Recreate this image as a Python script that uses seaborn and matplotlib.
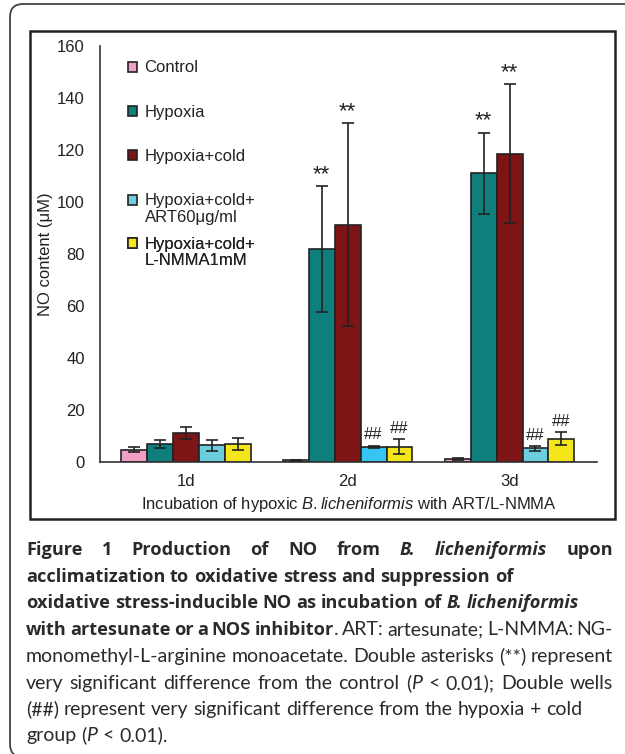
import matplotlib
matplotlib.use('Agg')
import matplotlib.pyplot as plt
from matplotlib.patches import Rectangle, FancyBboxPatch
import pandas as pd
import seaborn as sns

# data (NO content, uM)
days = ['1d', '2d', '3d']
groups = ['Control', 'Hypoxia', 'Hypoxia+cold',
          'Hypoxia+cold+\nART60\u03bcg/ml', 'Hypoxia+cold+\nL-NMMA1mM']
control = [4.8, 0.6, 1.1]
hypoxia = [6.9, 81.8, 111.0]
hypoxia_cold = [11.2, 91.3, 118.6]
art = [6.4, 5.9, 5.2]
lnmma = [6.9, 5.9, 9.0]
control_sd = [1.1, 0.3, 0.4]
hypoxia_sd = [1.4, 24.2, 15.6]
hypoxia_cold_sd = [2.2, 39.0, 26.7]
art_sd = [2.0, 0.4, 0.8]
lnmma_sd = [2.4, 3.0, 2.4]
# significance marks: (group index, day index, text)
marks = [(1, 1, '**'), (2, 1, '**'), (1, 2, '**'), (2, 2, '**'),
         (3, 1, '##'), (4, 1, '##'), (3, 2, '##'), (4, 2, '##')]

colors = ['#f29fc5', '#0f7f7e', '#7d1416', '#6ccede', '#f3e71b']

sns.set_style('white')
plt.rcParams['font.family'] = ['Liberation Sans', 'DejaVu Sans']
plt.rcParams['mathtext.fontset'] = 'custom'
plt.rcParams['mathtext.rm'] = 'Liberation Sans'
plt.rcParams['mathtext.it'] = 'Liberation Sans:italic'

means = [control, hypoxia, hypoxia_cold, art, lnmma]
sds = [control_sd, hypoxia_sd, hypoxia_cold_sd, art_sd, lnmma_sd]
rows = []
for g, m, s in zip(groups, means, sds):
    for d, v, e in zip(days, m, s):
        rows.append({'day': d, 'group': g, 'value': v, 'sd': e})
df = pd.DataFrame(rows)

fig = plt.figure(figsize=(6.25, 7.54), dpi=100)
ax = fig.add_axes([100 / 625, 1 - 462 / 754, 497 / 625, 416 / 754])

sns.barplot(data=df, x='day', y='value', hue='group', hue_order=groups,
            palette=colors, saturation=1, errorbar=None, width=0.8,
            edgecolor='#222222', linewidth=1.2, ax=ax, legend=False)
bars = list(ax.containers)

# the 2d ART bar is a brighter cyan in the original
bars[3][1].set_facecolor('#36c5f3')

# error bars and significance marks
for gi, cont in enumerate(bars):
    xs = [b.get_x() + b.get_width() / 2 for b in cont]
    ax.errorbar(xs, means[gi], yerr=sds[gi], fmt='none', ecolor='#222222',
                elinewidth=1.2, capsize=4.5, capthick=1.2, zorder=5)
for gi, di, txt in marks:
    b = bars[gi][di]
    x = b.get_x() + b.get_width() / 2
    top = means[gi][di] + sds[gi][di]
    if txt == '**':
        ax.annotate(txt, (x, top), xytext=(0, 4.5), textcoords='offset points',
                    ha='center', va='baseline', fontsize=16, color='#222222')
    else:
        ax.annotate(txt, (x, top), xytext=(0, 4.5), textcoords='offset points',
                    ha='center', va='baseline', fontsize=12, color='#222222')

ax.set_ylim(0, 160)
ax.set_xlim(-0.53, 2.54)
ax.set_yticks(range(0, 161, 20))
for s in ['top', 'right']:
    ax.spines[s].set_visible(False)
for s in ['left', 'bottom']:
    ax.spines[s].set_color('#333333')
    ax.spines[s].set_linewidth(1.2)
ax.tick_params(axis='y', direction='in', length=4, width=1.2, color='#333333',
               pad=11, labelsize=12, labelcolor='#222222')
ax.tick_params(axis='x', length=0, pad=9, labelsize=12, labelcolor='#222222')
ax.set_ylabel('NO content (\u03bcM)', fontsize=12, color='#222222', labelpad=3)
ax.set_xlabel(r'Incubation of hypoxic $\it{B.licheniformis}$ with ART/L-NMMA',
              fontsize=12, color='#222222', labelpad=4)

# legend in three blocks, so the two-line labels keep their square on the first line
leg_blocks = [([0, 1, 2], 60.5, 1.75), ([3], 193.5, 0.1), ([4], 236.5, 0.1)]
for idx, top_px, spacing in leg_blocks:
    hs, ls = [], []
    for gi in idx:
        lines = groups[gi].split('\n')
        hs.append(Rectangle((0, 0), 1, 1, facecolor=colors[gi],
                            edgecolor='#222222', linewidth=1.2))
        ls.append(lines[0])
        for extra in lines[1:]:
            hs.append(Rectangle((0, 0), 1, 1, facecolor='none', edgecolor='none'))
            ls.append(extra)
    leg = ax.legend(hs, ls, loc='upper left',
                    bbox_to_anchor=(0.056, (462 - top_px) / 416),
                    frameon=False, fontsize=12, handlelength=0.55,
                    handleheight=0.55, handletextpad=0.45, labelspacing=spacing,
                    borderpad=0, borderaxespad=0, labelcolor='#222222')
    ax.add_artist(leg)

# inner chart frame and outer bracket
fig.add_artist(Rectangle((30 / 625, 1 - 519 / 754), 585 / 625, 488 / 754,
                         transform=fig.transFigure, fill=False,
                         edgecolor='#222222', linewidth=1.8))
fig.add_artist(FancyBboxPatch((0.10, -0.03), 6.6, 7.53,
                              boxstyle='round,pad=0,rounding_size=0.13',
                              transform=fig.dpi_scale_trans, fill=False,
                              edgecolor='#444444', linewidth=1.3))

# caption, drawn word by word so that lines can be justified
cap_lines = [
    ([('Figure 1 Production of NO from ', 'bold', 'normal'),
      ('B. licheniformis', 'bold', 'italic'), (' upon', 'bold', 'normal')], True),
    ([('acclimatization to oxidative stress and suppression of', 'bold', 'normal')], False),
    ([('oxidative stress-inducible NO as incubation of ', 'bold', 'normal'),
      ('B. licheniformis', 'bold', 'italic')], False),
    ([('with artesunate or a NOS inhibitor', 'bold', 'normal'),
      ('. ART: artesunate; L-NMMA: NG-', 'normal', 'normal')], True),
    ([('monomethyl-L-arginine monoacetate. Double asterisks (**) represent',
       'normal', 'normal')], True),
    ([('very significant difference from the control (', 'normal', 'normal'),
      ('P', 'normal', 'italic'), (' < 0.01); Double wells', 'normal', 'normal')], True),
    ([('(##) represent very significant difference from the hypoxia + cold',
       'normal', 'normal')], False),
    ([('group (', 'normal', 'normal'), ('P', 'normal', 'italic'),
      (' < 0.01).', 'normal', 'normal')], False),
]
cap_y = [550, 577, 603, 630, 657, 684, 710, 736]
cap_left, cap_right = 26, 613
fonts = {'normal': 'Lato', 'bold': 'Open Sans'}
renderer = fig.canvas.get_renderer()


def text_width(s, weight, style, size):
    t = fig.text(0, 0, s, fontsize=size, family=fonts[weight], weight=weight, style=style)
    w = t.get_window_extent(renderer).width
    t.remove()
    return w


def space_width(weight, size):
    return text_width('a a', weight, 'normal', size) - text_width('aa', weight, 'normal', size)


def split_words(runs):
    words = [[]]
    for txt, wt, st in runs:
        parts = txt.split(' ')
        for k, p in enumerate(parts):
            if k > 0:
                words.append([])
            if p:
                words[-1].append((p, wt, st))
    return [w for w in words if w]


def natural_width(runs, weight, size):
    ws = split_words(runs)
    w = sum(text_width(p, wt, st, size) for word in ws for p, wt, st in word)
    return w + space_width(weight, size) * (len(ws) - 1)


# sizes chosen so that unjustified lines end where they do in the original
sizes = {'normal': 10 * 556 / natural_width(cap_lines[6][0], 'normal', 10),
         'bold': 10 * 487 / natural_width(cap_lines[1][0], 'bold', 10)}

for (runs, justify), yc in zip(cap_lines, cap_y):
    words = split_words(runs)
    widths = [[text_width(p, wt, st, sizes[wt]) for p, wt, st in w] for w in words]
    total = sum(sum(w) for w in widths)
    if justify:
        gap = (cap_right - cap_left - total) / (len(words) - 1)
    else:
        gap = space_width(words[-1][0][1], sizes[words[-1][0][1]])
    x = cap_left
    for w, ws in zip(words, widths):
        for (p, wt, st), pw in zip(w, ws):
            fig.text(x / 625, 1 - (yc + 5) / 754, p, fontsize=sizes[wt], family=fonts[wt],
                     weight=wt, style=st, color='#2a2a2a', va='baseline', ha='left')
            x += pw
        x += gap

fig.savefig('out.png', dpi=100)
